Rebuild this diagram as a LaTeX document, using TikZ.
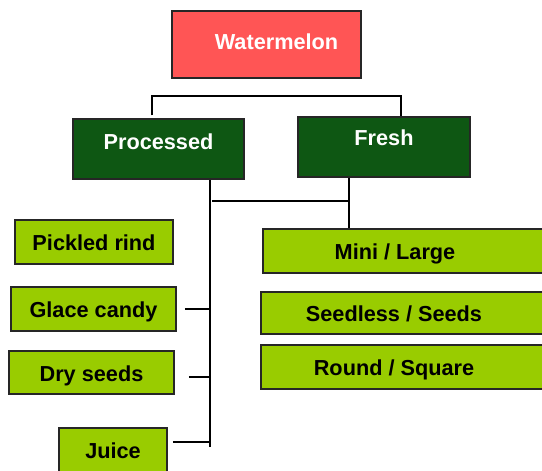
\documentclass[tikz,border=0pt]{standalone}
\usepackage{fontspec}
\setmainfont{Liberation Sans}
\usepackage{tikz}
\usetikzlibrary{positioning}
\definecolor{melonred}{HTML}{ff5555}
\definecolor{darkleaf}{HTML}{0e5713}
\definecolor{lightleaf}{HTML}{99cc00}

\begin{document}
\begin{tikzpicture}[x=1pt, y=-1pt, font=\fontsize{21.7}{24}\selectfont\bfseries,
  box/.style={draw=black!85, line width=1.5pt, inner sep=0pt, align=center, text height=16pt},
  top/.style={box, fill=melonred, text=white},
  grp/.style={box, fill=darkleaf, text=white, minimum width=171pt, minimum height=60pt},
  leaf/.style={box, fill=lightleaf, text=black, minimum height=44pt, text height=21pt, text depth=4pt},
  link/.style={line width=1.6pt, black}]
\useasboundingbox (0,0) rectangle (542,471);
\node[top, minimum width=189pt, minimum height=67pt, text depth=5.5pt] (water) at (266.5,44.5) {\hspace*{20pt}Watermelon};
\node[grp, text depth=16pt] (proc) at (158.5,149) {Processed};
\node[grp, minimum width=172pt, text depth=18.5pt] (fresh) at (384,147) {Fresh};
\node[leaf, minimum width=158pt] (pickle) at (94,242) {Pickled rind};
\node[leaf, minimum width=165pt] (glace) at (93.5,309) {Glace candy};
\node[leaf, minimum width=165pt, minimum height=43pt] (dry) at (91.5,372.5) {Dry seeds};
\node[leaf, minimum width=108pt] (juice) at (113,450) {Juice};
\node[leaf, minimum width=289pt] (mini) at (407.5,251) {Mini / Large\hspace*{25pt}};
\node[leaf, minimum width=291pt, minimum height=42pt] (seed) at (406.5,313) {Seedless / Seeds\hspace*{25pt}};
\node[leaf, minimum width=291pt] (round) at (406.5,367) {Round / Square\hspace*{25pt}};
% joints of the connectors
\coordinate (tl) at (152,96);
\coordinate (tr) at (401,96);
\coordinate (pj) at (210,447);
\coordinate (fj) at (349,201);
\draw[link] ([yshift=3pt]proc.north -| tl) -- (tl) -- (tr) -- (fresh.north -| tr);
\draw[link] (proc.south -| pj) -- (pj);
\draw[link] (fresh.south -| fj) -- (mini.north -| fj);
\draw[link] (fj) -- ([xshift=2pt]pj |- fj);
\draw[link] ([xshift=8pt]glace.east) -- (glace.east -| pj);
\draw[link] ([xshift=14pt,yshift=-4.5pt]dry.east) -- ([yshift=-4.5pt]dry.east -| pj);
\draw[link] ([xshift=5pt,yshift=8pt]juice.east) -- ([yshift=8pt]juice.east -| pj);
\end{tikzpicture}
\end{document}
